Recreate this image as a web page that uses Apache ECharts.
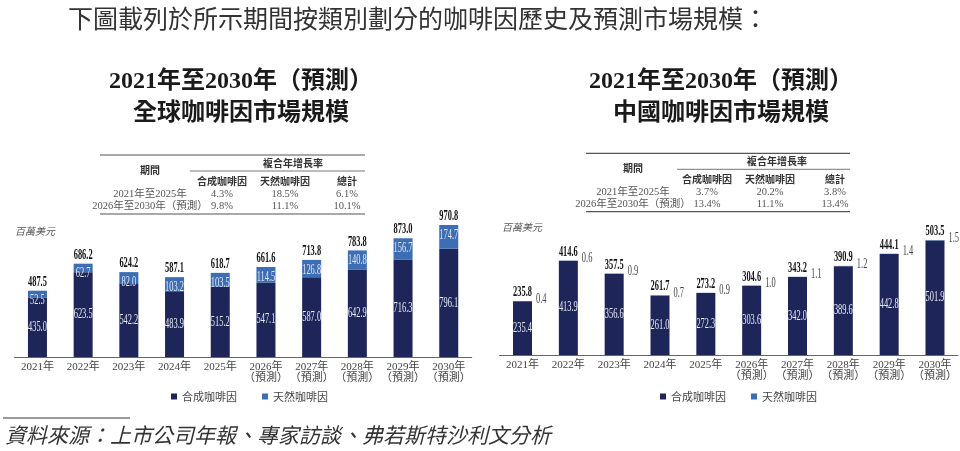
<!DOCTYPE html>
<html>
<head>
<meta charset="utf-8">
<script src="https://cdn.jsdelivr.net/npm/echarts@6/dist/echarts.min.js"></script>
<style>
html,body{margin:0;padding:0;background:#fff;}
#chart{width:960px;height:451px;}
</style>
</head>
<body>
<div id="chart"></div>
<script>
// ---- data ----
const categories = ['2021年','2022年','2023年','2024年','2025年','2026年\n（預測）','2027年\n（預測）','2028年\n（預測）','2029年\n（預測）','2030年\n（預測）'];
const globalSynthetic = [435.0,623.5,542.2,483.9,515.2,547.1,587.0,642.9,716.3,796.1];
const globalNatural   = [52.5,62.7,82.0,103.2,103.5,114.5,126.8,140.8,156.7,174.7];
const globalTotal     = [487.5,686.2,624.2,587.1,618.7,661.6,713.8,783.8,873.0,970.8];
const chinaSynthetic  = [235.4,413.9,356.6,261.0,272.3,303.6,342.0,389.6,442.8,501.9];
const chinaNatural    = [0.4,0.6,0.9,0.7,0.9,1.0,1.1,1.2,1.4,1.5];
const chinaTotal      = [235.8,414.6,357.5,261.7,273.2,304.6,343.2,390.9,444.1,503.5];
const seriesNames = ['合成咖啡因','天然咖啡因'];
const tablePeriods = ['2021年至2025年','2026年至2030年（預測）'];
const globalCagr = [['4.3%','18.5%','6.1%'],['9.8%','11.1%','10.1%']];
const chinaCagr  = [['3.7%','20.2%','3.8%'],['13.4%','11.1%','13.4%']];
const tableHeaders = ['合成咖啡因','天然咖啡因','總計'];

const DARK = '#1e2659';
const LIGHT = '#3d6db3';
const SERIF = '"Liberation Serif","Noto Sans CJK TC",serif';
const CJK = '"Noto Sans CJK TC",sans-serif';
const SQUEEZE = 0.6;

const chart = echarts.init(document.getElementById('chart'));

function xAxisCfg(gi){
  return {
    type:'category', gridIndex:gi, data:categories,
    axisLine:{lineStyle:{color:'#666',width:1.2}},
    axisTick:{show:false},
    axisLabel:{fontFamily:SERIF,fontSize:11,color:'#444',lineHeight:11,margin:5,interval:0}
  };
}
function yAxisCfg(gi,max){
  return {type:'value',gridIndex:gi,min:0,max:max,show:false,splitLine:{show:false}};
}

function txtEl(text,x,y,font,fill,align){
  return {type:'text',x:x,y:y,scaleX:SQUEEZE,silent:true,
    style:{text:text,x:0,y:0,font:font,fill:fill,textAlign:align||'center',textVerticalAlign:'middle'}};
}

// label renderer for the stacked bars: dims [index, synthetic, natural, total]
function makeLabelRenderer(naturalOutside){
  return function(params, api){
    const i = api.value(0), syn = api.value(1), nat = api.value(2), tot = api.value(3);
    const top = api.coord([i, tot]);
    const mid = api.coord([i, syn/2]);
    const half = 9.5;
    const children = [
      txtEl(tot.toFixed(1), top[0], top[1]-8.5, 'bold 14px '+SERIF, '#111'),
      txtEl(syn.toFixed(1), mid[0], mid[1], '14px '+SERIF, '#e8ecf6')
    ];
    if(naturalOutside){
      children.push(txtEl(nat.toFixed(1), top[0]+half+4, top[1]-2, '14px '+SERIF, '#444', 'left'));
    } else {
      children.push(txtEl(nat.toFixed(1), top[0], top[1]+10, '14px '+SERIF, '#e2e9f7'));
    }
    return {type:'group',children:children};
  };
}

function tableGraphics(o){
  const g = [];
  const line = (x1,y1,x2,y2,w)=>g.push({type:'line',silent:true,shape:{x1,y1,x2,y2},style:{stroke:'#555',lineWidth:w}});
  const txt = (t,x,y,font,fill)=>g.push({type:'text',silent:true,style:{text:t,x,y,font,fill,textAlign:'center',textVerticalAlign:'middle'}});
  line(o.x1,o.top,o.x2,o.top,1.2);
  line(o.subX,o.sub,o.x2,o.sub,0.8);
  line(o.x1,o.bottom,o.x2,o.bottom,1.2);
  txt('期間',o.periodX,o.periodY,'bold 10px '+CJK,'#333');
  txt('複合年增長率',o.cagrX,o.cagrY,'bold 10px '+CJK,'#333');
  tableHeaders.forEach((h,i)=>txt(h,o.cols[i],o.headY,'bold 10px '+CJK,'#333'));
  tablePeriods.forEach((p,r)=>{
    txt(p,o.periodX,o.rows[r],'10.5px '+SERIF,'#555');
    o.data[r].forEach((v,i)=>txt(v,o.cols[i],o.rows[r],'10.5px '+SERIF,'#555'));
  });
  return g;
}

const graphics = [
  {type:'text',silent:true,style:{text:'下圖載列於所示期間按類別劃分的咖啡因歷史及預測市場規模：',x:68,y:18,font:'25px '+CJK,fill:'#333',textVerticalAlign:'middle'}},
  {type:'text',silent:true,style:{text:'2021年至2030年（預測）',x:241,y:82,font:'bold 24px '+SERIF,fill:'#1a1a1a',textAlign:'center',textVerticalAlign:'middle'}},
  {type:'text',silent:true,style:{text:'全球咖啡因市場規模',x:241,y:111,font:'bold 24px '+CJK,fill:'#1a1a1a',textAlign:'center',textVerticalAlign:'middle'}},
  {type:'text',silent:true,style:{text:'2021年至2030年（預測）',x:721,y:82,font:'bold 24px '+SERIF,fill:'#1a1a1a',textAlign:'center',textVerticalAlign:'middle'}},
  {type:'text',silent:true,style:{text:'中國咖啡因市場規模',x:721,y:111,font:'bold 24px '+CJK,fill:'#1a1a1a',textAlign:'center',textVerticalAlign:'middle'}},
  {type:'text',silent:true,style:{text:'百萬美元',x:15,y:231,font:'italic 10px '+CJK,fill:'#555',textVerticalAlign:'middle'}},
  {type:'text',silent:true,style:{text:'百萬美元',x:502,y:227,font:'italic 10px '+CJK,fill:'#555',textVerticalAlign:'middle'}},
  {type:'line',silent:true,shape:{x1:3,y1:418,x2:130,y2:418},style:{stroke:'#333',lineWidth:1}},
  {type:'text',silent:true,style:{text:'資料來源：上市公司年報、專家訪談、弗若斯特沙利文分析',x:5,y:435,font:'italic 21px '+CJK,fill:'#333',textVerticalAlign:'middle'}}
].concat(
  tableGraphics({x1:100,x2:365,top:155,sub:171,subX:190,bottom:214,periodX:150,periodY:170,cagrX:293,cagrY:163,cols:[222,285,347],headY:181,rows:[194.5,206],data:globalCagr}),
  tableGraphics({x1:586,x2:850,top:153.3,sub:169.3,subX:677,bottom:211.7,periodX:633,periodY:168.5,cagrX:777,cagrY:161,cols:[707,770,835],headY:179,rows:[192.7,204.3],data:chinaCagr})
);

const globalRows = categories.map((c,i)=>[i, globalSynthetic[i], globalNatural[i], globalTotal[i]]);
const chinaRows  = categories.map((c,i)=>[i, chinaSynthetic[i], chinaNatural[i], chinaTotal[i]]);

const option = {
  backgroundColor:'#fff',
  animation:false,
  grid:[
    {left:14.6,top:221,width:457,height:136},
    {left:499.6,top:218.2,width:458.3,height:136.8}
  ],
  xAxis:[xAxisCfg(0),xAxisCfg(1)],
  yAxis:[yAxisCfg(0,1000),yAxisCfg(1,600)],
  legend:[
    {data:seriesNames,left:166,top:386,itemWidth:6,itemHeight:6,itemGap:25,icon:'rect',selectedMode:false,
     textStyle:{fontFamily:CJK,fontSize:11,color:'#444'}},
    {data:seriesNames,left:655,top:386,itemWidth:6,itemHeight:6,itemGap:25,icon:'rect',selectedMode:false,
     textStyle:{fontFamily:CJK,fontSize:11,color:'#444'}}
  ],
  series:[
    {name:seriesNames[0],type:'bar',xAxisIndex:0,yAxisIndex:0,stack:'g',barWidth:19,data:globalSynthetic,itemStyle:{color:DARK}},
    {name:seriesNames[1],type:'bar',xAxisIndex:0,yAxisIndex:0,stack:'g',barWidth:19,data:globalNatural,itemStyle:{color:LIGHT}},
    {name:'全球標籤',type:'custom',xAxisIndex:0,yAxisIndex:0,data:globalRows,encode:{x:0,y:3},clip:false,silent:true,
     renderItem:makeLabelRenderer(false),z:5},
    {name:seriesNames[0],type:'bar',xAxisIndex:1,yAxisIndex:1,stack:'c',barWidth:19,data:chinaSynthetic,itemStyle:{color:DARK}},
    {name:seriesNames[1],type:'bar',xAxisIndex:1,yAxisIndex:1,stack:'c',barWidth:19,data:chinaNatural,itemStyle:{color:LIGHT}},
    {name:'中國標籤',type:'custom',xAxisIndex:1,yAxisIndex:1,data:chinaRows,encode:{x:0,y:3},clip:false,silent:true,
     renderItem:makeLabelRenderer(true),z:5}
  ],
  graphic:graphics
};
chart.setOption(option);
</script>
</body>
</html>
